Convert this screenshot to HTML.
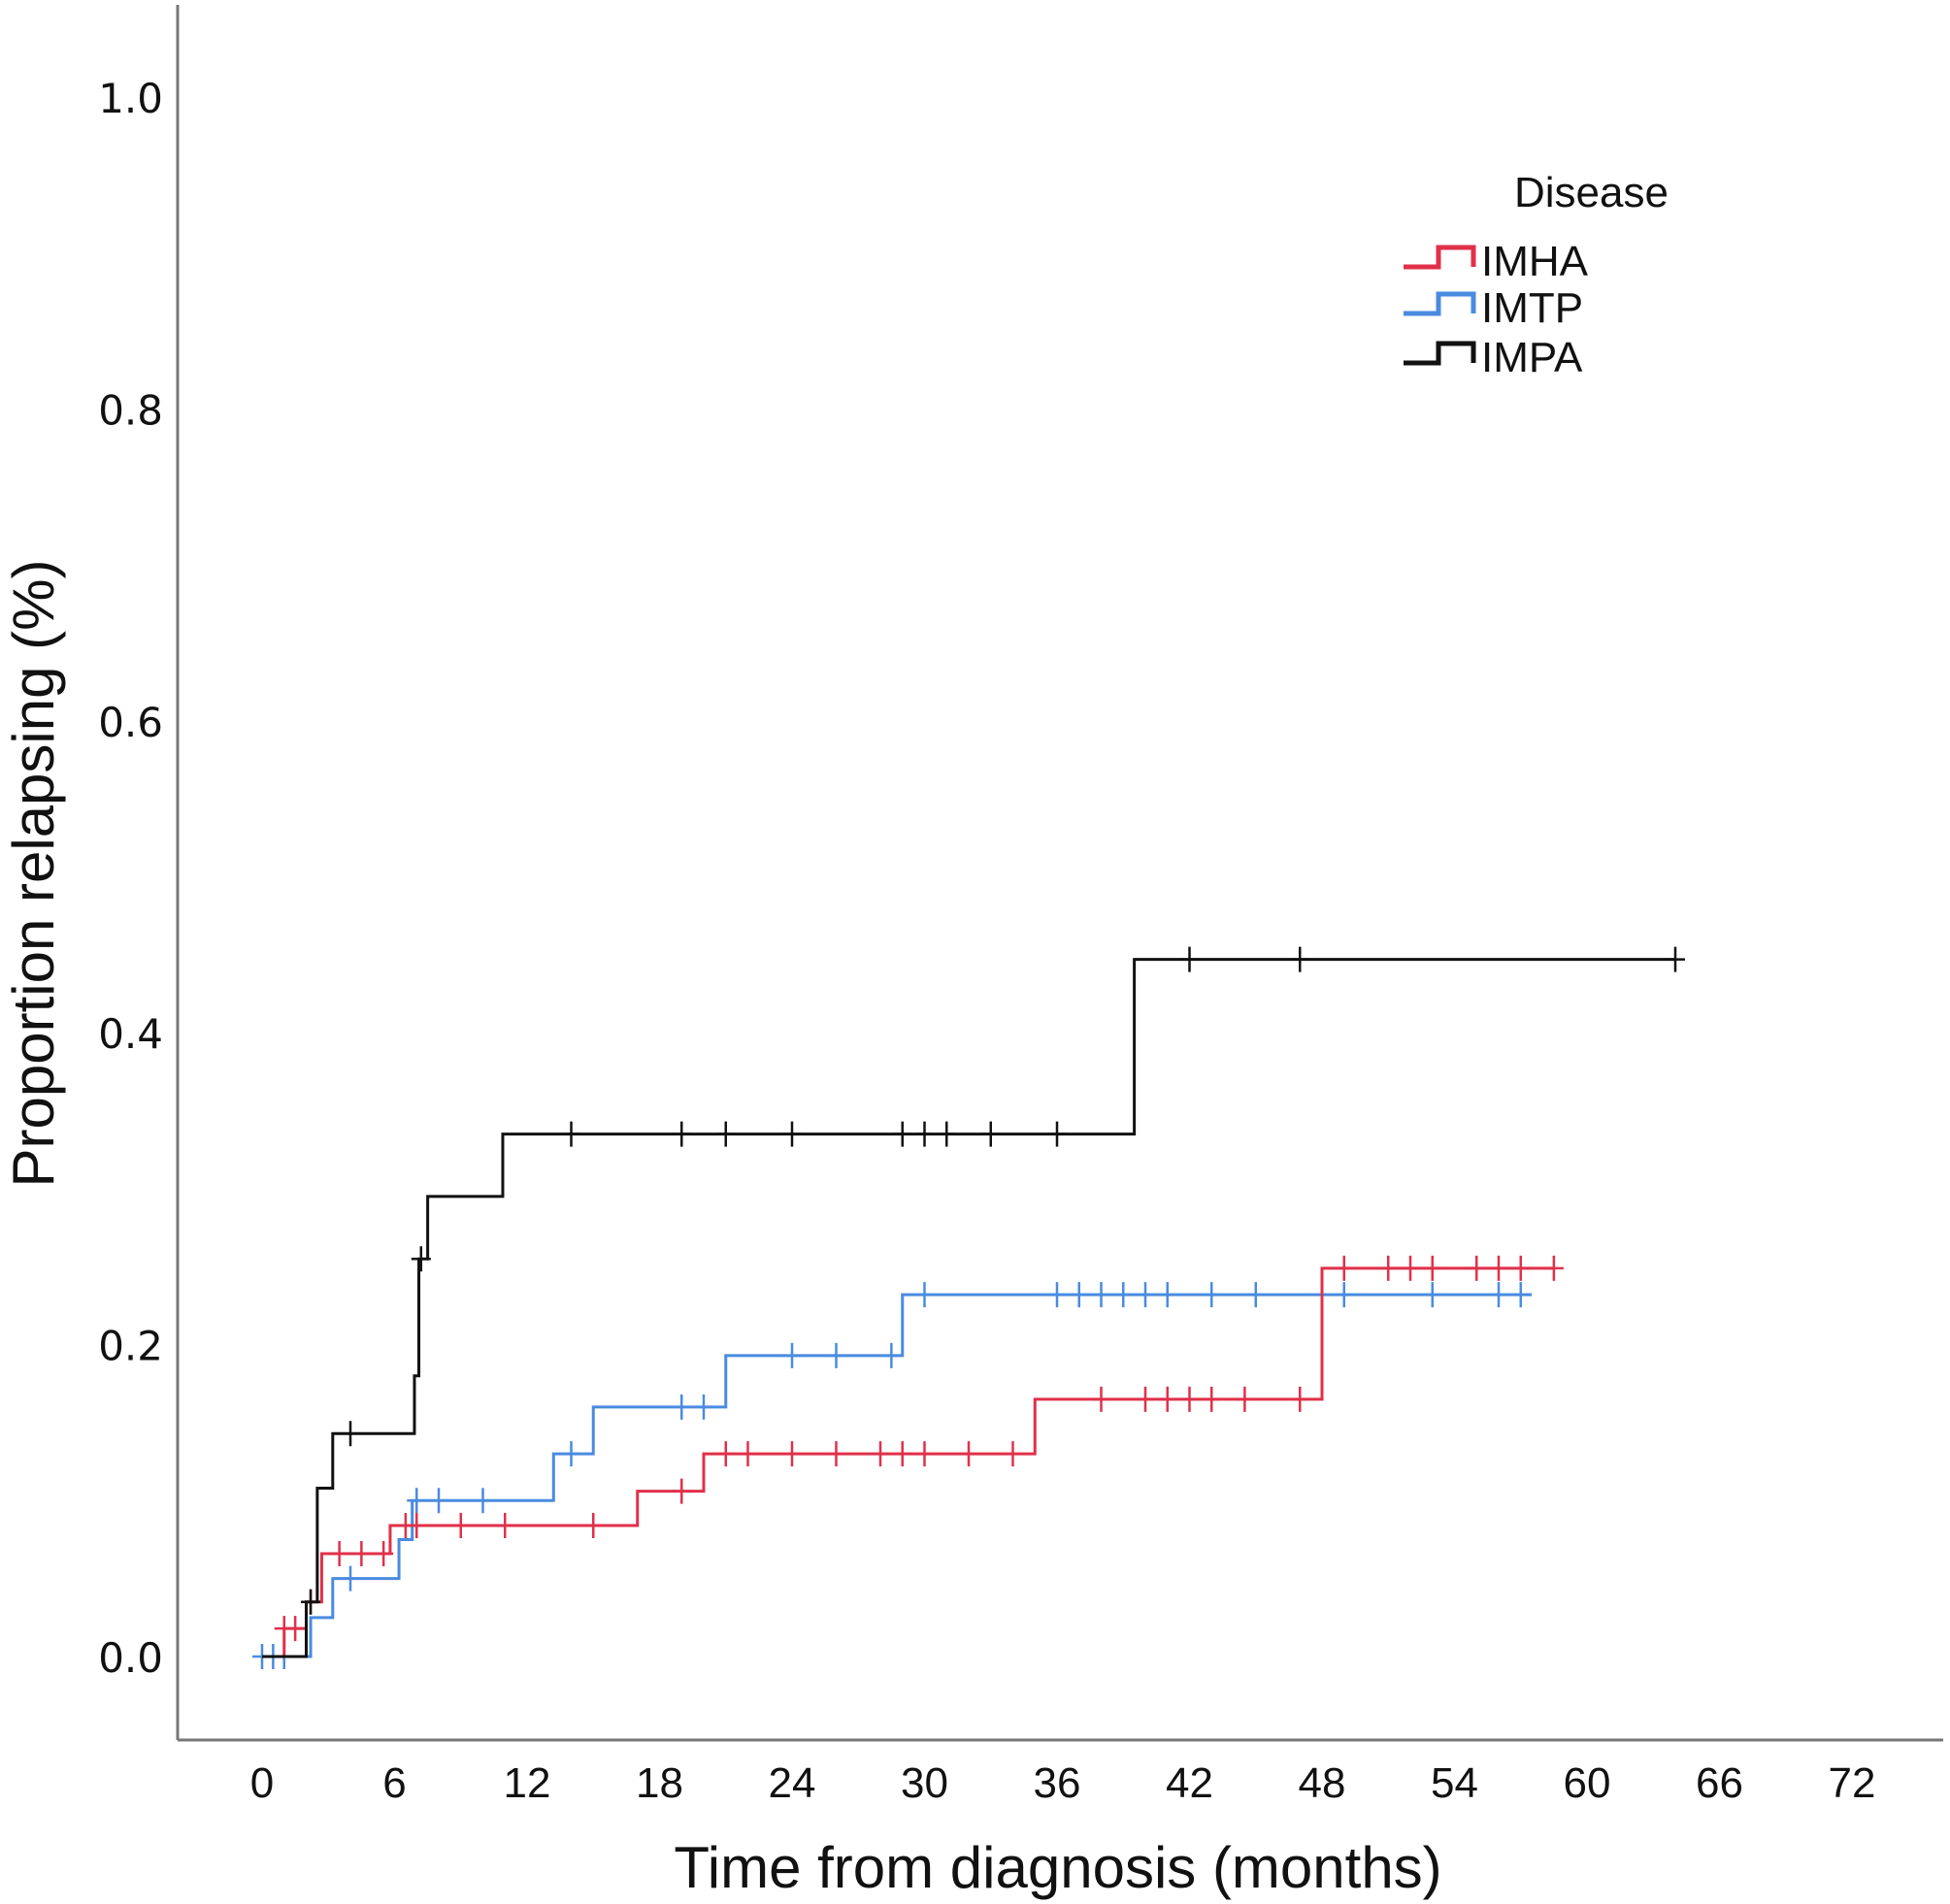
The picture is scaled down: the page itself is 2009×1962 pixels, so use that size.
<!DOCTYPE html>
<html><head><meta charset="utf-8"><style>
html,body{margin:0;padding:0;background:#fff;}
svg{display:block;}
</style></head><body>
<svg id="chart" width="2009" height="1962" viewBox="0 0 2009 1962" xmlns="http://www.w3.org/2000/svg">
<g id="axes"></g>
<g id="series"></g>
<g id="legend">
  <text x="1560" y="213" font-family="Liberation Sans, sans-serif" font-size="44" fill="#111">Disease</text>
</g>
</svg>
<script>
const xTicks = [0,6,12,18,24,30,36,42,48,54,60,66,72];
const yTicks = [0.0,0.2,0.4,0.6,0.8,1.0];
const seriesNames = ["IMHA","IMTP","IMPA"];
const seriesColors = ["#e0304a","#4a8be0","#111111"];
// steps: [time, proportion]
const imhaSteps = [[0,0],[1.0,0.018],[2.0,0.035],[2.7,0.066],[5.8,0.084],[17,0.106],[20,0.13],[35,0.165],[48,0.249],[58.5,0.249]];
const imhaCensor = [1,1.5,2.2,3.5,4.5,5.5,6.5,7,9,11,15,19,21,22,24,26,28,29,30,32,34,38,40,41,42,43,44.5,47,49,51,52,53,55,56,57,58.5];
const imtpSteps = [[0,0],[2.2,0.025],[3.2,0.05],[6.2,0.075],[6.8,0.1],[13.2,0.13],[15,0.16],[21,0.193],[29,0.232],[57.5,0.232]];
const imtpCensor = [0,0.5,1,4,7,8,10,14,19,20,24,26,28.5,30,36,37,38,39,40,41,43,45,49,53,56,57];
const impaSteps = [[0,0],[2.0,0.035],[2.5,0.108],[3.2,0.143],[6.9,0.18],[7.1,0.255],[7.5,0.295],[10.9,0.335],[39.5,0.447],[64,0.447]];
const impaCensor = [2.2,4,7.2,14,19,21,24,29,30,31,33,36,42,47,64];

const X0=270, X1=1908, Y0=1707, Y1=100;
function xs(t){return X0+(X1-X0)*t/72;}
function ys(v){return Y0-(Y0-Y1)*v;}
const NS="http://www.w3.org/2000/svg";
function mk(tag,attrs,parent){const e=document.createElementNS(NS,tag);for(const k in attrs)e.setAttribute(k,attrs[k]);parent.appendChild(e);return e;}
const axes=document.getElementById('axes');
let a=mk('line',{x1:183,y1:5,x2:183,y2:1793,stroke:'#777','stroke-width':3},axes);


a=mk('line',{x1:183,y1:1793,x2:2002,y2:1793,stroke:'#777','stroke-width':3},axes);


xTicks.forEach(t=>{
  const e=mk('text',{x:xs(t),y:1852,'text-anchor':'middle','font-family':'Liberation Sans, sans-serif','font-size':44,fill:'#111'},axes);
  e.textContent=t;
  
  
});
yTicks.forEach(v=>{
  const e=mk('text',{x:168,y:ys(v)+16,'text-anchor':'end','font-family':'DejaVu Sans, sans-serif','font-size':42,fill:'#111'},axes);
  e.textContent=v.toFixed(1);
  
  
});
let t=mk('text',{x:1090,y:1945,'text-anchor':'middle','font-family':'Liberation Sans, sans-serif','font-size':60,fill:'#111'},axes);
t.textContent='Time from diagnosis (months)';


t=mk('text',{x:0,y:0,'text-anchor':'middle','font-family':'Liberation Sans, sans-serif','font-size':60,fill:'#111',transform:'translate(55,900) rotate(-90)'},axes);
t.textContent='Proportion relapsing (%)';



const ser=document.getElementById('series');
function stepVal(steps,tm){let v=0;for(const s of steps){if(s[0]<=tm)v=s[1];}return v;}
function drawSeries(steps,cens,color,name){
  const g=mk('g',{},ser);
  
  
  let d='M'+xs(steps[0][0])+' '+ys(steps[0][1]);
  for(let i=1;i<steps.length;i++){d+=' H'+xs(steps[i][0])+' V'+ys(steps[i][1]);}
  const p=mk('path',{d:d,fill:'none',stroke:color,'stroke-width':3},g);
  
  
  cens.forEach(c=>{
    const y=ys(stepVal(steps,c)), x=xs(c);
    const m=mk('path',{d:`M${x} ${y-13} V${y+13} M${x-10} ${y} H${x+10}`,stroke:color,'stroke-width':2.5},g);
    
    
  });
}
drawSeries(imtpSteps,imtpCensor,seriesColors[1],'imtp');
drawSeries(imhaSteps,imhaCensor,seriesColors[0],'imha');
drawSeries(impaSteps,impaCensor,seriesColors[2],'impa');

const leg=document.getElementById('legend');
seriesNames.forEach((n,i)=>{
  const yb=[284,332,383][i];
  const g=mk('g',{},leg);
  
  
  mk('path',{d:`M1446 ${yb-9} H1482 V${yb-29} H1518 V${yb-9}`,fill:'none',stroke:seriesColors[i],'stroke-width':5},g);
  const tx=mk('text',{x:1526,y:yb,'font-family':'Liberation Sans, sans-serif','font-size':44,fill:'#111'},g);
  tx.textContent=n;
});
</script>
</body></html>
